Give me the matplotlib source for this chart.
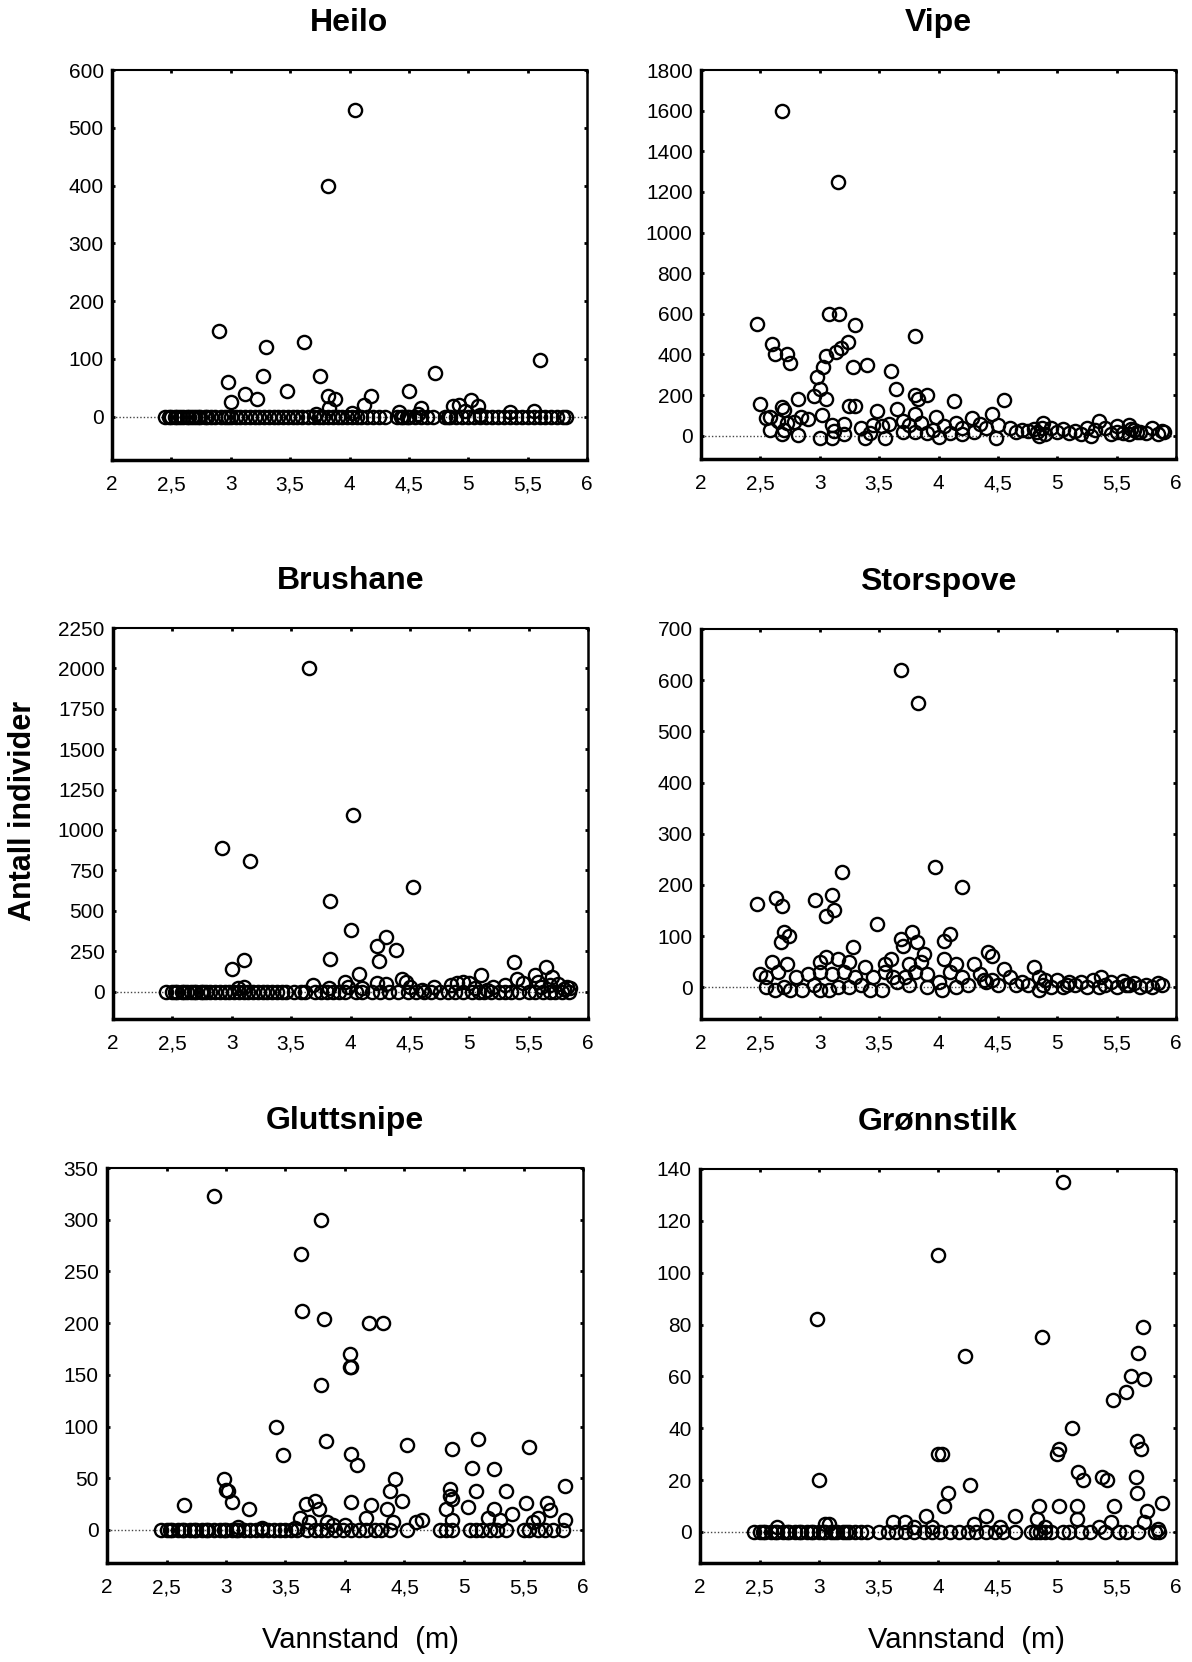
"""
Vadefugler mot vannstand - seks spredningsplott
"""
import numpy as np
import matplotlib.pyplot as plt

plt.rcParams['font.family'] = ['Liberation Sans', 'DejaVu Sans']

# Akseverdier
xticks = [2, 2.5, 3, 3.5, 4, 4.5, 5, 5.5, 6]
xtick_labels = ["2", "2,5", "3", "3,5", "4", "4,5", "5", "5,5", "6"]

# Heilo
heilo_x = [4.05, 3.82, 2.90, 3.30, 3.62, 5.60, 3.27, 3.75, 4.72, 2.98, 3.12, 3.22,
           3.47, 3.00, 3.82, 3.88, 4.18, 4.12, 4.50, 3.83, 4.60, 4.87, 4.92, 5.02,
           5.08, 4.42, 5.35, 5.55, 4.97, 3.72, 4.02, 4.58, 5.10]
heilo_y = [530, 400, 148, 120, 130, 98, 70, 70, 75, 60, 40, 30,
           45, 25, 35, 30, 35, 20, 45, 15, 15, 18, 20, 28,
           18, 8, 8, 10, 10, 5, 6, 5, 3]
heilo_zero = [2.45, 2.48, 2.50, 2.53, 2.55, 2.57, 2.60, 2.63, 2.65, 2.67, 2.70, 2.72,
              2.74, 2.78, 2.80, 2.83, 2.87, 2.92, 2.95, 2.98, 3.00, 3.04, 3.08, 3.12,
              3.16, 3.20, 3.24, 3.28, 3.32, 3.36, 3.40, 3.44, 3.48, 3.52, 3.56, 3.60,
              3.65, 3.70, 3.74, 3.78, 3.82, 3.86, 3.90, 3.94, 3.98, 4.02, 4.06, 4.10,
              4.15, 4.20, 4.25, 4.30, 4.40, 4.43, 4.45, 4.48, 4.50, 4.55, 4.60, 4.65,
              4.70, 4.80, 4.83, 4.85, 4.90, 4.95, 5.00, 5.05, 5.10, 5.15, 5.20, 5.25,
              5.30, 5.35, 5.40, 5.45, 5.50, 5.55, 5.60, 5.65, 5.70, 5.75, 5.80, 5.82]

# Vipe
vipe_x = [2.68, 3.15, 2.47, 3.08, 3.16, 3.30, 3.80, 2.60, 2.62, 2.72, 2.75, 3.05,
          3.14, 3.18, 3.24, 3.03, 3.28, 3.40, 2.98, 3.60, 3.00, 3.64, 2.50, 2.82,
          2.95, 3.05, 3.80, 3.83, 3.90, 4.13, 4.55, 3.25, 3.30, 2.68, 2.70, 3.48,
          3.65, 3.80, 3.98, 4.45, 4.28, 2.55, 2.58, 2.65, 2.72, 2.78, 2.84, 2.90,
          3.02, 3.10, 3.20, 3.35, 3.45, 3.52, 3.58, 3.70, 3.75, 3.85, 3.95, 4.05,
          4.15, 4.20, 4.35, 4.40, 4.50, 4.60, 4.70, 4.80, 4.88, 4.95, 5.05, 5.15,
          5.25, 5.35, 5.40, 5.50, 5.60, 5.65, 5.80, 5.88, 2.58, 2.68, 2.82, 3.00,
          3.10, 3.20, 3.38, 3.55, 3.70, 4.00, 4.20, 4.48, 4.85, 5.00, 5.28, 5.50,
          5.60, 5.70, 5.85, 3.80, 3.90, 4.10, 4.30, 4.65, 4.90, 5.10, 5.20, 5.45,
          5.55, 5.75, 5.90, 2.70, 3.12, 3.42, 4.75, 5.32, 4.83, 4.87, 5.62, 5.67]
vipe_y = [1600, 1250, 550, 600, 600, 545, 490, 450, 400, 400, 360, 390,
          410, 430, 460, 340, 340, 350, 290, 320, 230, 230, 155, 180,
          195, 180, 200, 180, 200, 170, 175, 145, 145, 140, 125, 120,
          130, 105, 90, 105, 85, 85, 90, 70, 60, 65, 90, 80,
          100, 50, 55, 40, 50, 45, 55, 70, 50, 60, 30, 45,
          60, 40, 55, 40, 50, 40, 30, 35, 60, 40, 35, 25,
          40, 70, 40, 45, 50, 30, 40, 25, 30, 10, 5, -10,
          -10, 10, -10, -10, 20, -5, 10, -10, 0, 20, 0, 20,
          10, 20, 10, 20, 15, 15, 20, 20, 10, 15, 10, 10,
          15, 15, 20, 30, 25, 15, 25, 30, 20, 40, 35, 20]

# Brushane
brushane_x = [3.65, 4.02, 2.92, 3.15, 4.53, 3.83, 4.00, 4.30, 4.22, 4.38, 3.10, 3.00,
              3.83, 4.24, 5.38, 4.07, 5.10, 5.65, 5.55, 5.70, 5.40, 4.43, 4.47, 3.95,
              4.70, 4.85, 4.90, 4.95, 5.00, 4.22, 4.30, 3.68, 3.82, 3.98, 5.20, 5.30,
              5.45, 5.60, 5.75, 5.82, 5.80, 5.85, 3.05, 3.10, 4.10, 4.50, 4.60, 5.05,
              5.15, 5.58, 5.68]
brushane_y = [2000, 1090, 890, 805, 650, 560, 380, 340, 280, 255, 195, 140,
              200, 190, 185, 110, 105, 150, 100, 90, 80, 80, 60, 60,
              30, 40, 50, 60, 50, 50, 45, 40, 20, 30, 30, 40,
              50, 30, 45, 30, 15, 20, 20, 30, 20, 30, 10, 20,
              10, 60, 40]
brushane_zero = [2.45, 2.50, 2.52, 2.54, 2.58, 2.60, 2.62, 2.66, 2.68, 2.70, 2.74, 2.76,
                 2.78, 2.82, 2.86, 2.90, 2.94, 2.98, 3.02, 3.06, 3.10, 3.14, 3.18, 3.22,
                 3.26, 3.30, 3.34, 3.38, 3.42, 3.46, 3.52, 3.58, 3.62, 3.70, 3.75, 3.80,
                 3.85, 3.90, 3.95, 4.05, 4.10, 4.18, 4.25, 4.32, 4.40, 4.48, 4.55, 4.62,
                 4.68, 4.75, 4.82, 4.88, 4.95, 5.02, 5.08, 5.12, 5.18, 5.25, 5.30, 5.35,
                 5.42, 5.50, 5.55, 5.62, 5.68, 5.72, 5.78, 5.84]

# Storspove
storspove_x = [3.68, 3.83, 3.97, 3.19, 4.20, 2.47, 2.63, 2.68, 2.96, 3.10, 3.12, 3.05,
               3.48, 2.70, 2.74, 2.67, 3.78, 3.68, 3.70, 3.82, 4.10, 4.05, 3.28, 3.88,
               4.42, 4.45, 2.60, 3.00, 3.05, 3.15, 3.25, 3.55, 3.60, 3.75, 3.85, 4.05,
               4.15, 4.30, 4.55, 4.80, 2.50, 2.55, 2.65, 2.72, 2.80, 2.90, 3.00, 3.10,
               3.20, 3.30, 3.38, 3.45, 3.55, 3.62, 3.72, 3.80, 3.90, 4.00, 4.10, 4.20,
               4.35, 4.45, 4.60, 4.70, 4.85, 4.90, 5.00, 5.10, 5.20, 5.30, 5.37, 5.45,
               5.55, 5.65, 5.75, 5.85, 2.55, 2.62, 2.70, 2.75, 2.85, 2.95, 3.00, 3.08,
               3.15, 3.25, 3.35, 3.42, 3.52, 3.65, 3.75, 3.90, 4.03, 4.15, 4.25, 4.40,
               4.50, 4.65, 4.75, 4.85, 4.95, 5.05, 5.15, 5.25, 5.35, 5.50, 5.60, 5.70,
               5.80, 5.88, 4.38, 4.88, 5.08, 5.40, 5.58]
storspove_y = [620, 555, 235, 225, 195, 163, 175, 158, 170, 180, 150, 140,
               123, 108, 100, 88, 108, 95, 80, 88, 105, 90, 78, 65,
               68, 62, 50, 50, 60, 55, 50, 45, 55, 45, 50, 55,
               45, 45, 35, 40, 25, 20, 30, 45, 20, 25, 30, 25,
               30, 20, 40, 20, 30, 20, 20, 30, 25, 10, 30, 20,
               25, 15, 20, 10, 20, 15, 15, 10, 10, 15, 20, 10,
               12, 8, 5, 8, 0, -5, 0, -5, -5, 5, -5, -5,
               0, 0, 5, -5, -5, 10, 5, 0, -5, 0, 5, 10,
               5, 5, 5, -5, 0, 0, 5, 0, 0, 0, 5, 0,
               0, 5, 15, 5, 5, 5, 5]

# Gluttsnipe
gluttsnipe_x = [2.90, 3.80, 3.63, 3.64, 3.82, 4.20, 4.32, 4.04, 4.04, 4.05, 3.80, 3.42,
                3.48, 3.84, 4.05, 4.10, 4.52, 4.90, 5.12, 5.55, 5.07, 5.25, 2.98, 3.00,
                3.02, 3.05, 3.19, 2.65, 4.42, 4.38, 4.48, 4.35, 4.22, 4.05, 3.75, 3.78,
                3.67, 3.62, 4.18, 3.70, 4.88, 4.88, 4.85, 4.90, 5.10, 5.03, 5.35, 5.25,
                5.40, 5.52, 5.70, 5.72, 5.85, 5.85, 5.62, 5.58, 5.30, 5.20, 4.90, 4.60,
                4.65, 4.40, 4.30, 4.00, 3.85, 3.90, 3.58, 3.10, 3.30]
gluttsnipe_y = [323, 300, 267, 212, 204, 200, 200, 170, 158, 158, 140, 100,
                72, 86, 73, 63, 82, 78, 88, 80, 60, 59, 49, 39,
                38, 27, 20, 24, 49, 38, 28, 20, 24, 27, 28, 20,
                25, 12, 12, 8, 40, 33, 20, 10, 38, 22, 38, 20,
                15, 26, 26, 19, 42, 10, 12, 8, 10, 12, 30, 8,
                10, 8, 0, 5, 8, 5, 2, 3, 2]
gluttsnipe_zero = [2.45, 2.50, 2.53, 2.55, 2.60, 2.63, 2.65, 2.70, 2.73, 2.75, 2.80, 2.83,
                   2.85, 2.90, 2.95, 2.98, 3.00, 3.05, 3.08, 3.10, 3.15, 3.20, 3.25, 3.30,
                   3.35, 3.40, 3.45, 3.50, 3.55, 3.60, 3.68, 3.75, 3.80, 3.85, 3.92, 3.98,
                   4.05, 4.12, 4.18, 4.25, 4.38, 4.52, 4.80, 4.85, 4.90, 5.05, 5.10, 5.15,
                   5.22, 5.28, 5.35, 5.50, 5.55, 5.62, 5.68, 5.75, 5.83]

# Grønnstilk
gronnstilk_x = [5.05, 4.00, 2.98, 4.87, 5.72, 4.23, 5.68, 5.62, 5.73, 5.58, 5.47, 5.13,
                5.67, 5.71, 5.02, 5.00, 4.00, 4.03, 3.00, 4.27, 5.18, 5.22, 5.38, 5.42,
                5.66, 5.67, 4.08, 4.05, 4.85, 5.02, 5.17, 5.48, 5.88, 5.76, 5.73, 3.90,
                4.40, 4.65, 4.83, 5.17, 5.45, 3.62, 3.72, 3.05, 3.08, 2.65, 3.80, 3.95,
                4.30, 4.52, 4.90, 5.35, 5.85]
gronnstilk_y = [135, 107, 82, 75, 79, 68, 69, 60, 59, 54, 51, 40,
                35, 32, 32, 30, 30, 30, 20, 18, 23, 20, 21, 20,
                21, 15, 15, 10, 10, 10, 10, 10, 11, 8, 4, 6,
                6, 6, 5, 5, 4, 4, 4, 3, 3, 2, 2, 2,
                3, 2, 2, 2, 1]
gronnstilk_zero = [2.45, 2.50, 2.53, 2.55, 2.60, 2.63, 2.65, 2.70, 2.73, 2.75, 2.80, 2.83,
                   2.85, 2.90, 2.93, 2.95, 3.00, 3.03, 3.05, 3.10, 3.13, 3.15, 3.20, 3.23,
                   3.25, 3.30, 3.35, 3.40, 3.50, 3.58, 3.65, 3.72, 3.80, 3.88, 3.95, 4.02,
                   4.10, 4.18, 4.25, 4.32, 4.40, 4.48, 4.55, 4.65, 4.78, 4.82, 4.86, 4.90,
                   4.95, 5.05, 5.10, 5.20, 5.28, 5.40, 5.52, 5.58, 5.68, 5.82, 5.86]

W, H = 1192, 1662

# (tittel, x, y, nuller, yticks, ylim, venstre, topp, høyre, bunn) i piksler
panels = [
    ("Heilo", heilo_x, heilo_y, heilo_zero, np.arange(0, 601, 100), (-75, 600), 112, 70, 587, 460),
    ("Vipe", vipe_x, vipe_y, [], np.arange(0, 1801, 200), (-115, 1800), 701, 70, 1176, 459),
    ("Brushane", brushane_x, brushane_y, brushane_zero, np.arange(0, 2251, 250), (-170, 2250), 113, 628, 588, 1019),
    ("Storspove", storspove_x, storspove_y, [], np.arange(0, 701, 100), (-62, 700), 701, 629, 1176, 1019),
    ("Gluttsnipe", gluttsnipe_x, gluttsnipe_y, gluttsnipe_zero, np.arange(0, 351, 50), (-32, 350), 107, 1168, 583, 1563),
    ("Grønnstilk", gronnstilk_x, gronnstilk_y, gronnstilk_zero, np.arange(0, 141, 20), (-12, 140), 700, 1169, 1176, 1563),
]

fig = plt.figure(figsize=(W / 100, H / 100), dpi=100)

for title, xs, ys, zeros, yt, ylim, l, t, r, b in panels:
    ax = fig.add_axes([l / W, 1 - b / H, (r - l) / W, (b - t) / H])

    # prikket nullinje
    ax.axhline(0, color="#444444", lw=1.0, ls=(0, (1, 1.5)), zorder=1)

    ax.plot(zeros, np.zeros(len(zeros)), "o", mfc="none", mec="black", ms=9.5, mew=1.7, zorder=2)
    ax.plot(xs, ys, "o", mfc="none", mec="black", ms=9.5, mew=1.7, zorder=3)

    ax.set_xlim(2, 6)
    ax.set_ylim(*ylim)
    ax.set_xticks(xticks)
    ax.set_xticklabels(xtick_labels)
    ax.set_yticks(yt)
    ax.tick_params(direction="in", length=2.5, width=2, labelsize=15,
                   top=True, right=True)
    ax.tick_params(axis="x", pad=11)
    ax.tick_params(axis="y", pad=6)

    ax.spines["left"].set_linewidth(2.5)
    ax.spines["bottom"].set_linewidth(2.5)
    ax.spines["top"].set_linewidth(1.5)
    ax.spines["right"].set_linewidth(1.8)

    fig.text((l + r) / 2 / W, 1 - (t - 47) / H, title, ha="center", va="center",
             fontsize=23, fontweight="bold")

# aksetitler
fig.text(23 / W, 1 - 811 / H, "Antall individer", rotation=90, ha="center", va="center",
         fontsize=22, fontweight="bold")
fig.text(360 / W, 1 - 1640 / H, "Vannstand  (m)", ha="center", va="center", fontsize=21)
fig.text(966 / W, 1 - 1640 / H, "Vannstand  (m)", ha="center", va="center", fontsize=21)

fig.savefig("out.png", dpi=100)
